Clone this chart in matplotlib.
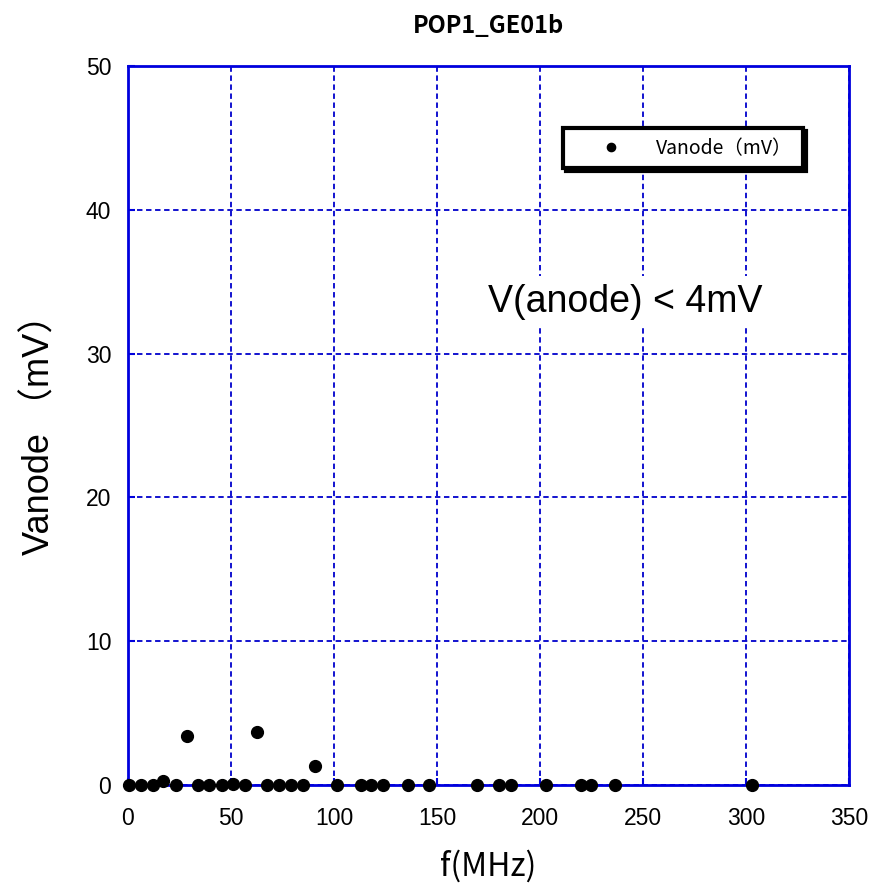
import matplotlib
matplotlib.use('Agg')
import matplotlib.pyplot as plt

# frequency (MHz) and anode voltage (mV)
freq = [0.5, 6.3, 12, 17.2, 23.1, 28.8, 34.2, 39.3, 45.5, 51.1, 56.8, 62.6,
        67.6, 73.4, 79.1, 84.8, 90.8, 101.3, 113, 118, 123.6, 135.7, 146,
        169.2, 180.1, 185.9, 202.7, 219.8, 224.8, 236.4, 303]
vanode = [0, 0, 0, 0.28, 0, 3.4, 0, 0, 0, 0.1, 0, 3.7,
          0, 0, 0, 0, 1.3, 0, 0, 0, 0, 0, 0,
          0, 0, 0, 0, 0, 0, 0, 0]
xticks = [0, 50, 100, 150, 200, 250, 300, 350]
yticks = [0, 10, 20, 30, 40, 50]

jp = ['Noto Sans CJK JP', 'DejaVu Sans']
arial = ['Liberation Sans Narrow', 'Liberation Sans', 'Noto Sans CJK JP']

fig = plt.figure(figsize=(8.88, 8.91), dpi=100)
ax = fig.add_axes([0.1441, 0.119, 0.812, 0.807])

ax.plot(freq, vanode, 'o', color='black', markersize=8.5, clip_on=False,
        zorder=5, label='Vanode（mV）')

ax.set_xlim(0, 350)
ax.set_ylim(0, 50)
ax.set_xticks(xticks)
ax.set_yticks(yticks)
ax.grid(True, color='#0000cc', linestyle=(0, (3, 2)), linewidth=1.3)

for s in ax.spines.values():
    s.set_color('#0000dd')
    s.set_linewidth(2)
ax.tick_params(direction='in', color='#0000dd', length=5, width=1.5,
               labelsize=16.5, pad=12)
ax.tick_params(axis='x', pad=16)
for lab in ax.get_xticklabels() + ax.get_yticklabels():
    lab.set_family(arial)

ax.set_title('POP1_GE01b', family=jp, fontsize=17, weight='bold', pad=24)
ax.set_xlabel('f(MHz)', family=jp, fontsize=23, labelpad=14)
ax.set_ylabel('Vanode （mV）', family=['Liberation Sans', 'Noto Sans CJK JP'],
              fontsize=26, labelpad=20)

ax.text(241.5, 33.6, 'V(anode) < 4mV', family=['Liberation Sans'],
        fontsize=27, ha='center', va='center',
        bbox=dict(facecolor='white', edgecolor='none', pad=6), zorder=4)

leg = ax.legend(loc='center', bbox_to_anchor=(0.603, 0.853, 0.333, 0.065),
                mode='expand', prop={'family': jp, 'size': 14},
                fancybox=False, shadow={'color': 'black', 'alpha': 1},
                framealpha=1, borderpad=0.5, handlelength=4,
                handletextpad=0.3, markerscale=0.7, borderaxespad=0)
leg.get_frame().set_edgecolor('black')
leg.get_frame().set_linewidth(3)
leg.set_zorder(6)

fig.savefig('out.png', dpi=100)
